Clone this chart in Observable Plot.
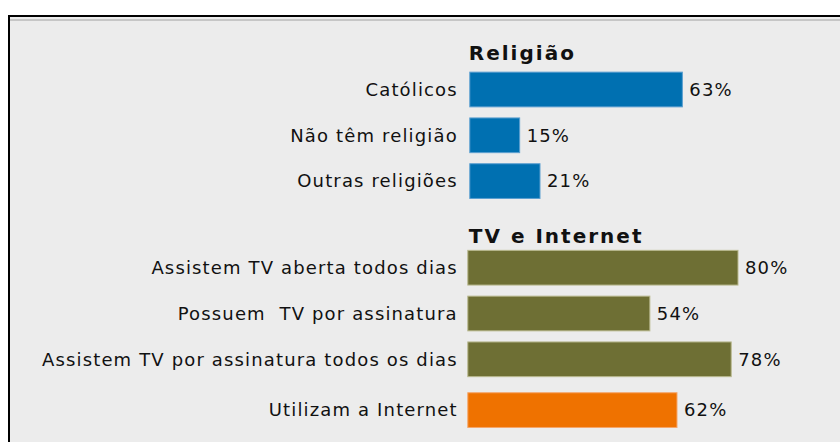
<!DOCTYPE html>
<html>
<head>
<meta charset="utf-8">
<script src="https://cdn.jsdelivr.net/npm/d3@7"></script>
<script src="https://cdn.jsdelivr.net/npm/@observablehq/plot@0.6"></script>
<style>
  html, body { margin: 0; padding: 0; background: #fff; }
  #wrap { position: relative; width: 840px; height: 442px; overflow: hidden; }
  #frame { position: absolute; left: 8px; top: 15px; width: 832px; height: 440px;
           border-top: 2px solid #000; border-left: 2px solid #000; background: #ececec; box-sizing: border-box; }
  #frame::before { content: ""; position: absolute; left: 0; right: 0; top: 2px; height: 2px; background: #c6c6c6; }
  #chart { position: absolute; left: 0; top: 0; }
  #chart svg text { white-space: pre; letter-spacing: 1.15px; }
  #chart svg g[font-weight="bold"] text { letter-spacing: 2px; }
</style>
</head>
<body>
<div id="wrap"><div id="frame"></div><div id="chart"></div></div>
<script>
// Data
const religionCategories = ["Católicos", "Não têm religião", "Outras religiões"];
const religionValues = [63, 15, 21];
const tvCategories = ["Assistem TV aberta todos dias", "Possuem  TV por assinatura", "Assistem TV por assinatura todos os dias"];
const tvValues = [80, 54, 78];
const internetCategories = ["Utilizam a Internet"];
const internetValues = [62];
const groupTitles = ["Religião", "TV e Internet"];

const GAP = "\u200b"; // spacer row between the two groups
const toRows = (cats, vals) => cats.map((c, i) => ({category: c, value: vals[i]}));
const religion = toRows(religionCategories, religionValues);
const tv = toRows(tvCategories, tvValues);
const internet = toRows(internetCategories, internetValues);
const headers = [
  {title: groupTitles[0], category: religionCategories[0]},
  {title: groupTitles[1], category: tvCategories[0]}
];
const domain = [...religionCategories, GAP, ...tvCategories, ...internetCategories];

const colors = {religion: "#0070b1", tv: "#6e6f34", internet: "#ef7200"};
const edges = {religion: "#5b9fd0", tv: "#b9b98f", internet: "#f5a66a"};

const barOpts = (k, extra) => ({x: "value", y: "category", fill: colors[k], stroke: edges[k], strokeWidth: 1, inset: 0.5, ...extra});
const labelOpts = (extra) => ({x: 0, y: "category", text: "category", textAnchor: "end", dx: -10, lineAnchor: "middle", fill: "#111", ...extra});
const valueOpts = (extra) => ({x: "value", y: "category", text: d => d.value + "%", textAnchor: "start", dx: 6, lineAnchor: "middle", fill: "#111", ...extra});

const chart = Plot.plot({
  width: 840,
  height: 442,
  marginLeft: 467.3,
  marginRight: 33.7,
  marginTop: 66.6,
  marginBottom: 9,
  style: {background: "transparent", fontFamily: "DejaVu Sans", fontSize: "18px", color: "#111"},
  x: {domain: [0, 100], axis: null},
  y: {type: "band", domain, paddingInner: 0.22, paddingOuter: 0.11, round: false, axis: null},
  marks: [
    Plot.barX(religion, barOpts("religion", {dx: 2})),
    Plot.barX(tv, barOpts("tv", {dy: -5})),
    Plot.barX(internet, barOpts("internet")),
    Plot.text(religion, labelOpts()),
    Plot.text(tv, labelOpts({dy: -5})),
    Plot.text(internet, labelOpts()),
    Plot.text(religion, valueOpts({dx: 8})),
    Plot.text(tv, valueOpts({dy: -5})),
    Plot.text(internet, valueOpts()),
    Plot.text(headers, {x: 0, y: "category", text: "title", textAnchor: "start", lineAnchor: "bottom", dy: -30, dx: 1, fontWeight: "bold", fontSize: 20, fill: "#111"})
  ]
});
document.getElementById("chart").appendChild(chart);
</script>
</body>
</html>
